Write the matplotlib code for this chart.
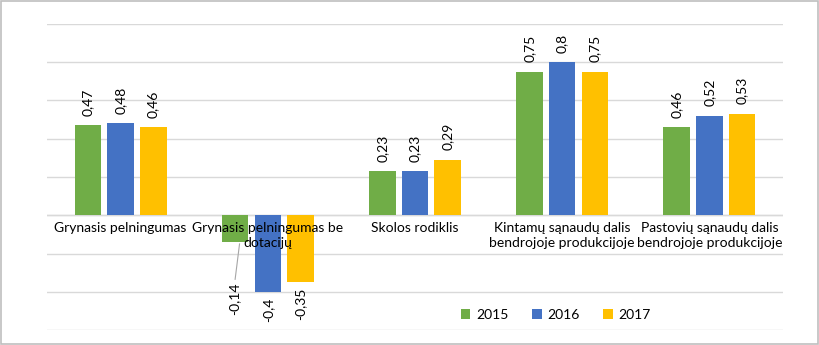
import numpy as np
import matplotlib.pyplot as plt
from matplotlib.patches import Rectangle

plt.rcParams['font.family'] = ['Lato', 'DejaVu Sans']

# Data
categories = ['Grynasis pelningumas', 'Grynasis pelningumas be\ndotacijų', 'Skolos rodiklis',
              'Kintamų sąnaudų dalis\nbendrojoje produkcijoje', 'Pastovių sąnaudų dalis\nbendrojoje produkcijoje']
years = ['2015', '2016', '2017']
v2015 = [0.47, -0.14, 0.23, 0.75, 0.46]
v2016 = [0.48, -0.4, 0.23, 0.8, 0.52]
v2017 = [0.46, -0.35, 0.29, 0.75, 0.53]
labels2015 = ['0,47', '-0,14', '0,23', '0,75', '0,46']
labels2016 = ['0,48', '-0,4', '0,23', '0,8', '0,52']
labels2017 = ['0,46', '-0,35', '0,29', '0,75', '0,53']
colors = ['#70AD47', '#4472C4', '#FFC000']

fig = plt.figure(figsize=(8.2, 3.45), dpi=100)
ax = fig.add_axes([47/820, 1-330/345, 736/820, 306/345])

x = np.arange(len(categories))
w = 0.18
off = 0.222
series = [v2015, v2016, v2017]
labs = [labels2015, labels2016, labels2017]
for i, (vals, lab, c, yr) in enumerate(zip(series, labs, colors, years)):
    xs = x + (i - 1) * off
    ax.bar(xs, vals, width=w, color=c, label=yr, zorder=3)
    for j, (xv, v, t) in enumerate(zip(xs, vals, lab)):
        if i == 0 and j == 1:
            # moved label with leader line
            ax.plot([xv + 0.03, xv + 0.0], [v - 0.01, -0.335], color='#A6A6A6', lw=0.8, zorder=4)
            ax.text(xv - 0.005, -0.35, t, rotation=90, ha='center', va='top', fontsize=10)
        elif v >= 0:
            ax.annotate(t, (xv, v), xytext=(0, 7), textcoords='offset points',
                        rotation=90, ha='center', va='bottom', fontsize=10)
        else:
            ax.annotate(t, (xv, v), xytext=(0, -4), textcoords='offset points',
                        rotation=90, ha='center', va='top', fontsize=10)

ax.set_xlim(-0.5, 4.5)
ax.set_ylim(-0.6, 1.0)
ax.set_yticks(np.arange(-0.6, 1.01, 0.2))
ax.yaxis.grid(True, color='#D9D9D9', lw=1, zorder=0)
ax.tick_params(left=False, labelleft=False, bottom=False, labelbottom=False)
for s in ax.spines.values():
    s.set_visible(False)
ax.axhline(0, color='#D9D9D9', lw=1, zorder=2)

for xi, cat in zip(x, categories):
    ax.text(xi, -0.035, cat, ha='center', va='top', fontsize=10, linespacing=1.3, zorder=5)

ax.legend(loc='upper left', bbox_to_anchor=(0.545, 0.11), ncol=3, frameon=False,
          fontsize=10, handlelength=0.7, handleheight=0.7, columnspacing=1.7, handletextpad=0.4)

fig.patches.append(Rectangle((0.001, 0.003), 0.996, 0.994, transform=fig.transFigure,
                             fill=False, edgecolor='#BFBFBF', lw=1.2))

fig.savefig('out.png', dpi=100)
